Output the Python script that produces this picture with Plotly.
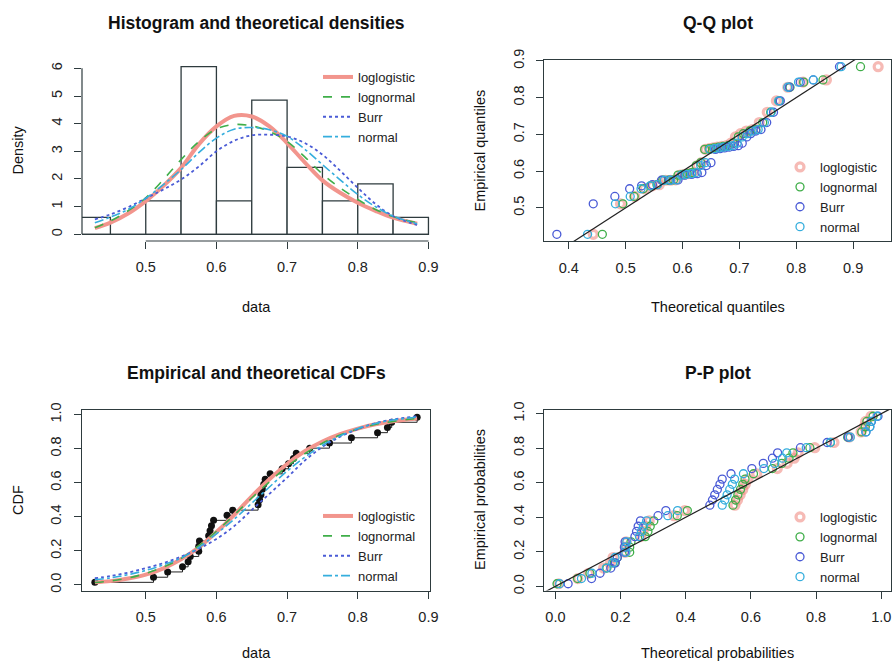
import plotly.graph_objects as go

W, H = 896, 663
FONT = "Liberation Sans, Arial, Helvetica, sans-serif"
AX = "#2E3B3E"

dist_names = ["loglogistic", "lognormal", "Burr", "normal"]
dist_colors = ["#F2958D", "#3FAE49", "#4A5BD6", "#35AEDD"]
dist_dash = ["solid", "dash", "dot", "dashdot"]
dist_width = [4, 1.6, 1.8, 1.6]

# histogram
hist_breaks = [0.40, 0.45, 0.50, 0.55, 0.60, 0.65, 0.70, 0.75, 0.80, 0.85, 0.90]
hist_density = [0.61, 0.0, 1.21, 6.06, 1.21, 4.85, 2.42, 1.21, 1.82, 0.61]

# theoretical densities
dens_x = [0.428, 0.45, 0.475, 0.5, 0.525, 0.55, 0.575, 0.6, 0.625, 0.65, 0.675, 0.7, 0.725, 0.75, 0.775, 0.8, 0.825, 0.85, 0.884]
dens_loglogistic = [0.22, 0.42, 0.75, 1.2, 1.75, 2.4, 3.25, 3.9, 4.28, 4.26, 3.9, 3.3, 2.6, 1.95, 1.5, 1.14, 0.85, 0.6, 0.38]
dens_lognormal = [0.24, 0.48, 0.85, 1.32, 1.98, 2.7, 3.35, 3.81, 3.97, 3.92, 3.72, 3.36, 2.8, 2.18, 1.68, 1.26, 0.9, 0.64, 0.42]
dens_burr = [0.54, 0.72, 0.98, 1.3, 1.62, 1.98, 2.45, 3.0, 3.38, 3.58, 3.6, 3.54, 3.3, 2.88, 2.3, 1.68, 1.1, 0.66, 0.34]
dens_normal = [0.42, 0.62, 0.9, 1.3, 1.8, 2.34, 2.95, 3.48, 3.8, 3.86, 3.78, 3.54, 3.08, 2.52, 1.97, 1.44, 1.0, 0.66, 0.38]

# theoretical CDFs
cdf_loglogistic = [0.015, 0.022, 0.037, 0.06, 0.097, 0.15, 0.22, 0.31, 0.41, 0.52, 0.62, 0.71, 0.785, 0.842, 0.885, 0.918, 0.943, 0.961, 0.977]
cdf_lognormal = [0.014, 0.023, 0.04, 0.067, 0.105, 0.155, 0.23, 0.315, 0.41, 0.51, 0.605, 0.695, 0.77, 0.832, 0.88, 0.915, 0.942, 0.96, 0.978]
cdf_burr = [0.039, 0.052, 0.072, 0.098, 0.128, 0.166, 0.212, 0.27, 0.345, 0.44, 0.535, 0.63, 0.73, 0.81, 0.87, 0.915, 0.95, 0.972, 0.99]
cdf_normal = [0.03, 0.041, 0.06, 0.085, 0.118, 0.158, 0.22, 0.3, 0.385, 0.48, 0.575, 0.668, 0.75, 0.82, 0.875, 0.918, 0.948, 0.968, 0.985]

# observed data (sorted) and empirical probabilities
data_sorted = [0.428, 0.511, 0.531, 0.552, 0.560, 0.563, 0.575, 0.575, 0.576, 0.589, 0.591, 0.593, 0.596,
               0.615, 0.623, 0.659, 0.661, 0.663, 0.665, 0.667, 0.669, 0.676, 0.693, 0.702, 0.709, 0.713,
               0.732, 0.760, 0.791, 0.828, 0.842, 0.848, 0.884]
emp_prob = [0.015, 0.045, 0.076, 0.106, 0.136, 0.167, 0.197, 0.227, 0.258, 0.288, 0.318, 0.348, 0.379,
            0.409, 0.439, 0.470, 0.500, 0.530, 0.561, 0.591, 0.621, 0.652, 0.682, 0.712, 0.742, 0.773,
            0.803, 0.833, 0.864, 0.894, 0.924, 0.955, 0.985]

# Q-Q theoretical quantiles
qq_loglogistic = [0.443, 0.491, 0.516, 0.533, 0.547, 0.559, 0.570, 0.579, 0.588, 0.596, 0.604, 0.611, 0.619, 0.626, 0.633, 0.640, 0.647, 0.654, 0.661, 0.669, 0.677, 0.685, 0.693, 0.702, 0.712, 0.723, 0.735, 0.749, 0.765, 0.785, 0.812, 0.853, 0.944]
qq_lognormal = [0.459, 0.495, 0.515, 0.531, 0.544, 0.555, 0.565, 0.575, 0.584, 0.592, 0.600, 0.608, 0.616, 0.624, 0.632, 0.639, 0.647, 0.655, 0.663, 0.671, 0.680, 0.689, 0.698, 0.707, 0.718, 0.729, 0.741, 0.755, 0.770, 0.789, 0.813, 0.847, 0.913]
qq_burr = [0.379, 0.443, 0.481, 0.507, 0.528, 0.547, 0.563, 0.578, 0.592, 0.604, 0.616, 0.626, 0.634, 0.642, 0.650, 0.658, 0.666, 0.674, 0.682, 0.690, 0.698, 0.705, 0.713, 0.720, 0.729, 0.738, 0.748, 0.760, 0.772, 0.788, 0.807, 0.830, 0.876]
qq_normal = [0.433, 0.482, 0.508, 0.527, 0.543, 0.556, 0.568, 0.579, 0.589, 0.598, 0.607, 0.616, 0.624, 0.632, 0.640, 0.648, 0.656, 0.664, 0.672, 0.680, 0.688, 0.696, 0.705, 0.714, 0.723, 0.733, 0.744, 0.756, 0.769, 0.785, 0.804, 0.830, 0.879]

# P-P theoretical probabilities
pp_loglogistic = [0.010, 0.069, 0.102, 0.148, 0.169, 0.177, 0.214, 0.214, 0.217, 0.262, 0.269, 0.277, 0.288, 0.364, 0.397, 0.551, 0.559, 0.567, 0.575, 0.583, 0.591, 0.618, 0.681, 0.711, 0.733, 0.745, 0.796, 0.855, 0.902, 0.938, 0.948, 0.952, 0.969]
pp_lognormal = [0.005, 0.068, 0.106, 0.158, 0.181, 0.190, 0.228, 0.228, 0.232, 0.276, 0.284, 0.291, 0.302, 0.374, 0.405, 0.545, 0.553, 0.560, 0.568, 0.575, 0.582, 0.608, 0.666, 0.695, 0.717, 0.729, 0.781, 0.844, 0.897, 0.940, 0.951, 0.956, 0.975]
pp_burr = [0.039, 0.111, 0.137, 0.170, 0.184, 0.190, 0.212, 0.212, 0.214, 0.244, 0.249, 0.254, 0.261, 0.315, 0.339, 0.474, 0.482, 0.489, 0.497, 0.505, 0.512, 0.539, 0.603, 0.638, 0.666, 0.682, 0.752, 0.834, 0.899, 0.953, 0.965, 0.970, 0.990]
pp_normal = [0.013, 0.080, 0.112, 0.156, 0.176, 0.183, 0.216, 0.216, 0.219, 0.258, 0.264, 0.270, 0.280, 0.345, 0.375, 0.512, 0.520, 0.527, 0.535, 0.543, 0.550, 0.577, 0.640, 0.673, 0.697, 0.710, 0.770, 0.844, 0.905, 0.953, 0.965, 0.969, 0.987]

# ticks
hist_xticks = [0.5, 0.6, 0.7, 0.8, 0.9]
hist_yticks = [0, 1, 2, 3, 4, 5, 6]
qq_xticks = [0.4, 0.5, 0.6, 0.7, 0.8, 0.9]
qq_yticks = [0.5, 0.6, 0.7, 0.8, 0.9]
prob_ticks = [0.0, 0.2, 0.4, 0.6, 0.8, 1.0]

# axis ranges
hist_xrange = [0.4098, 0.9022]
hist_yrange = [-0.2424, 6.3024]
qq_xrange = [0.3564, 0.9666]
qq_yrange = [0.4098, 0.9022]
cdf_yrange = [-0.033, 1.03]
pp_xrange = [-0.035, 1.03]
pp_yrange = [-0.024, 1.024]

dens_series = [dens_loglogistic, dens_lognormal, dens_burr, dens_normal]
cdf_series = [cdf_loglogistic, cdf_lognormal, cdf_burr, cdf_normal]
qq_series = [qq_loglogistic, qq_lognormal, qq_burr, qq_normal]
pp_series = [pp_loglogistic, pp_lognormal, pp_burr, pp_normal]


def xd(a, b):
    return [a / W, b / W]


def yd(top, bottom):
    return [1 - bottom / H, 1 - top / H]


fig = go.Figure()

# ---- panel 1: histogram + densities
mids = [(hist_breaks[i] + hist_breaks[i + 1]) / 2 for i in range(len(hist_density))]
fig.add_trace(go.Bar(x=mids, y=hist_density, width=hist_breaks[1] - hist_breaks[0],
                     marker=dict(color="white", line=dict(color=AX, width=1.3)),
                     showlegend=False, xaxis="x", yaxis="y"))
for i, name in enumerate(dist_names):
    fig.add_trace(go.Scatter(x=dens_x, y=dens_series[i], mode="lines", name=name,
                             line=dict(color=dist_colors[i], dash=dist_dash[i], width=dist_width[i], shape="spline"),
                             xaxis="x", yaxis="y", legend="legend"))

# ---- panel 2: Q-Q
for i, name in enumerate(dist_names):
    lw = 3.2 if i == 0 else 1.3
    col = "rgba(240,140,132,0.6)" if i == 0 else dist_colors[i]
    fig.add_trace(go.Scatter(x=qq_series[i], y=data_sorted, mode="markers", name=name,
                             marker=dict(symbol="circle-open", size=8, color=col, line=dict(width=lw, color=col)),
                             xaxis="x2", yaxis="y2", legend="legend2"))

# ---- panel 3: CDFs
fig.add_trace(go.Scatter(x=data_sorted, y=emp_prob, mode="lines+markers",
                         line=dict(color="#222", width=1, shape="hv"),
                         marker=dict(color="#111", size=7), showlegend=False, xaxis="x3", yaxis="y3"))
for i, name in enumerate(dist_names):
    fig.add_trace(go.Scatter(x=dens_x, y=cdf_series[i], mode="lines", name=name,
                             line=dict(color=dist_colors[i], dash=dist_dash[i], width=dist_width[i], shape="spline"),
                             xaxis="x3", yaxis="y3", legend="legend3"))

# ---- panel 4: P-P
for i, name in enumerate(dist_names):
    lw = 3.2 if i == 0 else 1.3
    col = "rgba(240,140,132,0.6)" if i == 0 else dist_colors[i]
    fig.add_trace(go.Scatter(x=pp_series[i], y=emp_prob, mode="markers", name=name,
                             marker=dict(symbol="circle-open", size=8, color=col, line=dict(width=lw, color=col)),
                             xaxis="x4", yaxis="y4", legend="legend4"))

tickfont = dict(family=FONT, size=14.5, color="#222")


def axis(domain, rng, ticks, anchor, vertical=False, box=True, labels=None, standoff=6):
    d = dict(domain=domain, range=rng, tickmode="array", tickvals=ticks,
             ticktext=labels if labels else [str(t) for t in ticks],
             ticks="outside", ticklen=7, tickwidth=1, tickcolor=AX,
             showgrid=False, zeroline=False, anchor=anchor, tickfont=tickfont, automargin=False,
             showline=box, mirror=box, linecolor=AX, linewidth=1.2, ticklabelstandoff=standoff)
    if vertical:
        d["tickangle"] = -90
    return d


prob_labels = ["%.1f" % t for t in prob_ticks]
top_dom = yd(60, 241)
bot_dom = yd(409.5, 590.5)
left_dom = xd(82, 430)
right_dom = xd(544, 891)

legend_common = dict(bgcolor="rgba(0,0,0,0)", font=dict(family=FONT, size=13, color="#222"),
                     itemwidth=30, tracegroupgap=0, xanchor="left", yanchor="top", traceorder="normal")

fig.update_layout(
    width=W, height=H, margin=dict(l=0, r=0, t=0, b=0, autoexpand=False),
    paper_bgcolor="white", plot_bgcolor="white",
    font=dict(family=FONT, color="#222"),
    xaxis=axis(left_dom, hist_xrange, hist_xticks, "y", box=False),
    yaxis=axis(top_dom, hist_yrange, hist_yticks, "x", vertical=True, box=False, standoff=6),
    xaxis2=axis(right_dom, qq_xrange, qq_xticks, "y2"),
    yaxis2=axis(top_dom, qq_yrange, qq_yticks, "x2", vertical=True, standoff=6),
    xaxis3=axis(left_dom, hist_xrange, hist_xticks, "y3"),
    yaxis3=axis(bot_dom, cdf_yrange, prob_ticks, "x3", vertical=True, labels=prob_labels, standoff=7),
    xaxis4=axis(right_dom, pp_xrange, prob_ticks, "y4", labels=prob_labels),
    yaxis4=axis(bot_dom, pp_yrange, prob_ticks, "x4", vertical=True, labels=prob_labels, standoff=6),
    legend=dict(x=318 / W, y=1 - 62 / H, **legend_common),
    legend2=dict(x=780 / W, y=1 - 152 / H, **legend_common),
    legend3=dict(x=318 / W, y=1 - 501 / H, **legend_common),
    legend4=dict(x=780 / W, y=1 - 502 / H, **legend_common),
    showlegend=True,
)

# R-style axis lines for the histogram panel (from first to last tick)
fig.add_shape(type="line", xref="x", yref="y domain", x0=hist_xticks[0], x1=hist_xticks[-1], y0=0, y1=0,
              line=dict(color=AX, width=1.2))
fig.add_shape(type="line", xref="x domain", yref="y", x0=0, x1=0, y0=hist_yticks[0], y1=hist_yticks[-1],
              line=dict(color=AX, width=1.2))
# bar baseline (zero-height bins)
fig.add_shape(type="line", xref="x", yref="y", x0=hist_breaks[0], x1=hist_breaks[-1], y0=0, y1=0,
              line=dict(color=AX, width=1.3))
# identity lines y = x across the whole plot region
lo2, hi2 = min(qq_xrange[0], qq_yrange[0]), max(qq_xrange[1], qq_yrange[1])
fig.add_shape(type="line", xref="x2", yref="y2", x0=lo2, y0=lo2, x1=hi2, y1=hi2, line=dict(color="#222", width=1.2))
lo4, hi4 = min(pp_xrange[0], pp_yrange[0]), max(pp_xrange[1], pp_yrange[1])
fig.add_shape(type="line", xref="x4", yref="y4", x0=lo4, y0=lo4, x1=hi4, y1=hi4, line=dict(color="#222", width=1.2))


def ann(text, x, y, size=14.5, angle=0, bold=False):
    fig.add_annotation(text="<b>%s</b>" % text if bold else text, x=x / W, y=1 - y / H, xref="paper", yref="paper",
                       showarrow=False, xanchor="center", yanchor="middle", textangle=angle,
                       font=dict(family=FONT, size=size, color="#111"))


ann("Histogram and theoretical densities", 256, 23, size=17.5, bold=True)
ann("Q-Q plot", 717.5, 23, size=17.5, bold=True)
ann("Empirical and theoretical CDFs", 256, 373, size=17.5, bold=True)
ann("P-P plot", 717.5, 373, size=17.5, bold=True)
ann("data", 256, 307)
ann("Theoretical quantiles", 717.5, 307)
ann("data", 256, 653)
ann("Theoretical probabilities", 717.5, 653)
ann("Density", 18, 150.5, angle=-90)
ann("Empirical quantiles", 480, 150.5, angle=-90)
ann("CDF", 18, 500, angle=-90)
ann("Empirical probabilities", 480, 500, angle=-90)

fig.write_html("out.html", config={"displayModeBar": False},
               post_script="document.body.style.margin='0px';document.body.style.overflow='hidden';")
